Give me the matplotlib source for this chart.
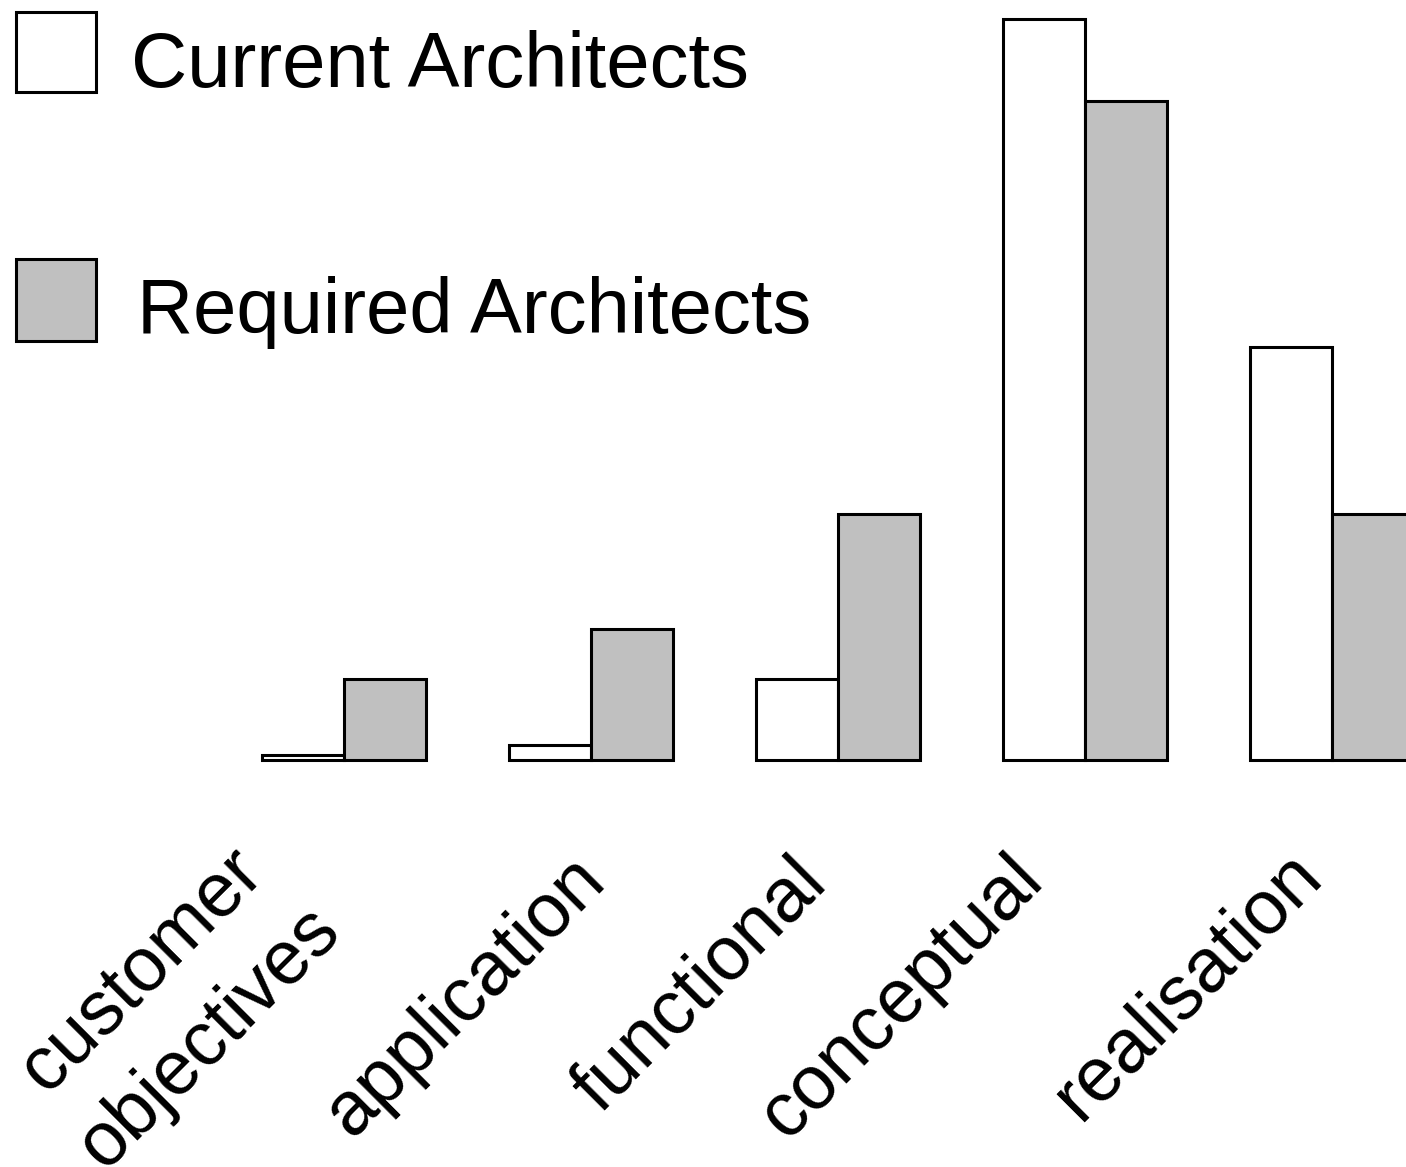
import numpy as np
import matplotlib
matplotlib.use("Agg")
import matplotlib.pyplot as plt
from matplotlib.patches import Rectangle

# ---- data ----
categories = ["customer\nobjectives", "application", "functional", "conceptual", "realisation"]
current = [0.055, 0.185, 1.0, 9.14, 5.09]
required = [1.0, 1.61, 3.03, 8.13, 3.03]
series_names = ["Current Architects", "Required Architects"]
series_colors = ["#ffffff", "#c0c0c0"]

# ---- layout helpers (pixels) ----
W, H = 1406, 1167
DPI = 100
plt.rcParams["font.family"] = ["Liberation Sans", "DejaVu Sans"]

fig = plt.figure(figsize=(W / DPI, H / DPI), dpi=DPI)
fig.patch.set_facecolor("white")

base_px = 759.7      # baseline from top
unit_px = 81.0       # pixels per value unit
group_px = 247.0     # spacing between groups
first_px = 344.0     # first group centre

ax = fig.add_axes([0, 1 - base_px / H, 1, base_px / H])
ax.set_ylim(0, base_px / unit_px)
ax.set_xlim(-first_px / group_px, (W - first_px) / group_px)
ax.axis("off")

x = np.arange(len(categories))
bw = 0.33
lw = 2.2
ax.bar(x - bw / 2, current, bw, color=series_colors[0], edgecolor="black",
       linewidth=lw, clip_on=False, zorder=2)
ax.bar(x + bw / 2, required, bw, color=series_colors[1], edgecolor="black",
       linewidth=lw, clip_on=False, zorder=2)

# category labels (hand placed, rotated)
label_offsets = [(10, 184), (17, 123), (-8, 125), (-39, 122), (-7, 118)]
for i, (lab, (dx, dy)) in enumerate(zip(categories, label_offsets)):
    va = "bottom" if "\n" in lab else "baseline"
    ax.annotate(lab, xy=(i, 0), xycoords="data", xytext=(dx, -dy),
                textcoords="offset pixels", rotation=45, rotation_mode="anchor",
                ha="right", va=va, multialignment="center", linespacing=1.45,
                fontsize=54.5, color="black", annotation_clip=False)

# legend (manual)
def fx(px):
    return px / W

def fy(py):
    return 1 - py / H

legend_boxes = [(15.5, 11.5, 81, 80), (15.5, 258.5, 81, 82)]
legend_text = [(131, 87), (137, 333)]
for (bx, by, bwid, bht), (tx, ty), name, col in zip(legend_boxes, legend_text,
                                                   series_names, series_colors):
    fig.patches.append(Rectangle((fx(bx), fy(by + bht)), bwid / W, bht / H,
                                 transform=fig.transFigure, facecolor=col,
                                 edgecolor="black", linewidth=lw))
    fig.text(fx(tx), fy(ty), name, ha="left", va="baseline", fontsize=56,
             color="black")

fig.savefig("out.png", dpi=DPI, facecolor="white")
